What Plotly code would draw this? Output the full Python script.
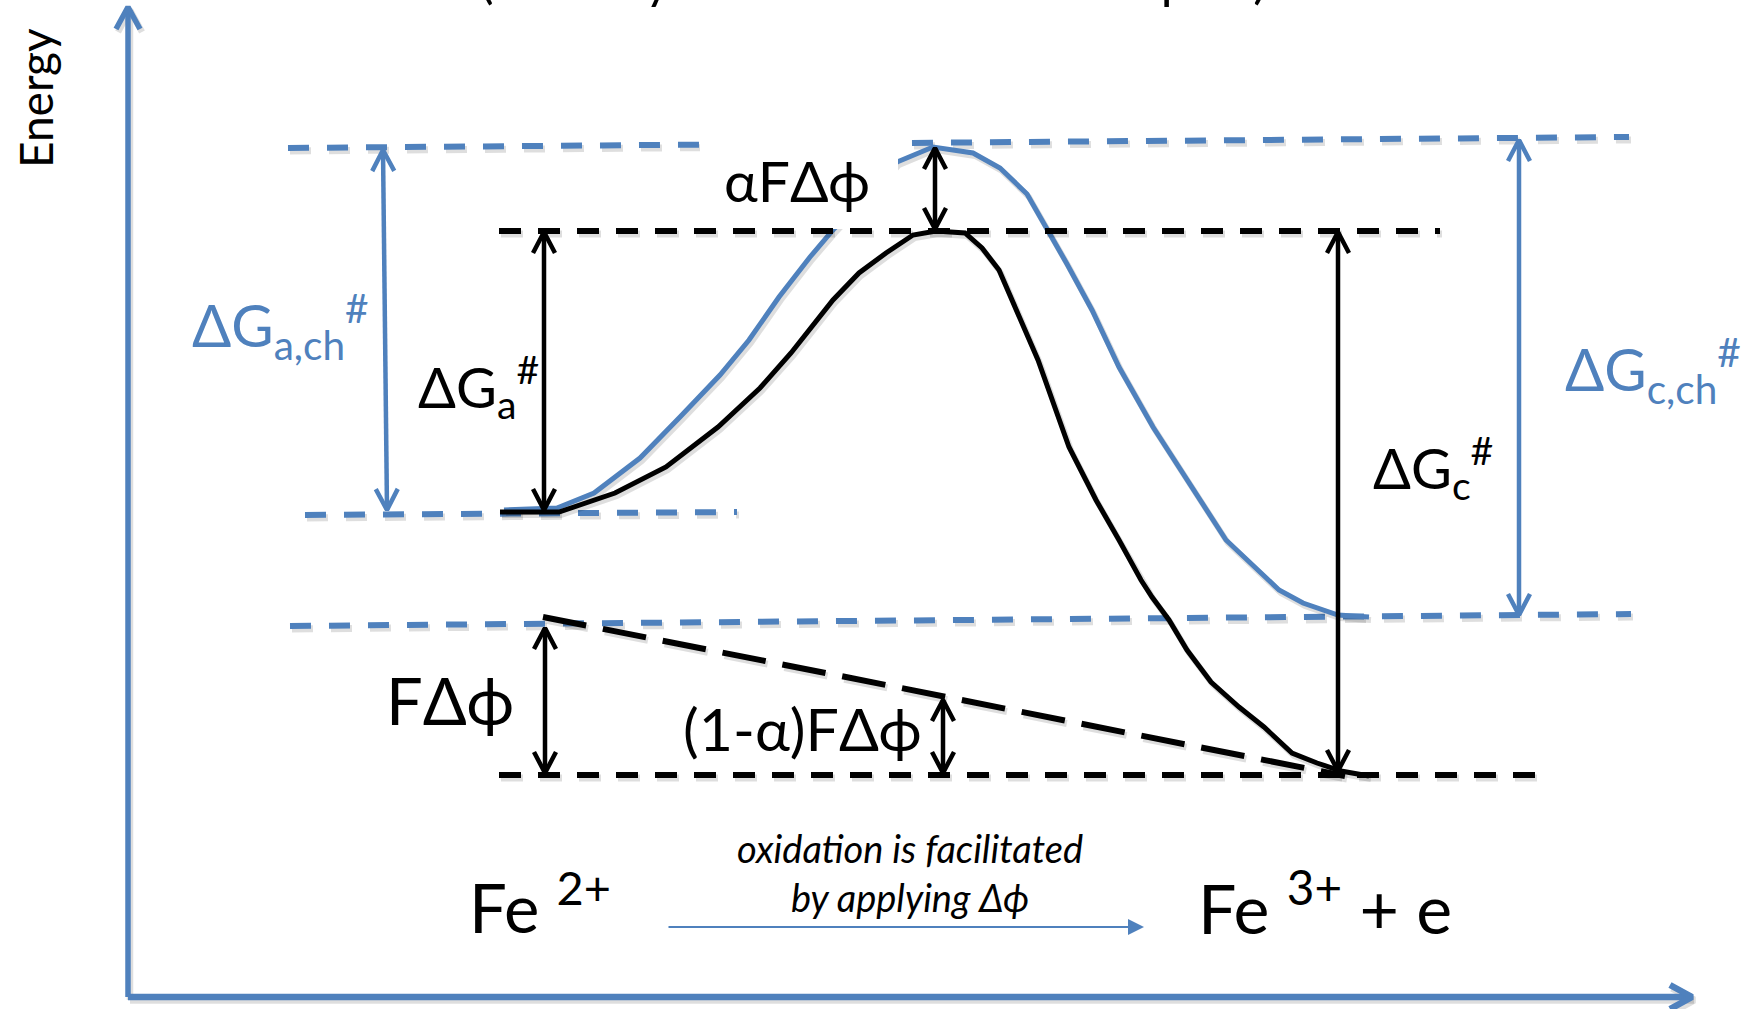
import math
import plotly.graph_objects as go

W, H = 1749, 1009
BLUE = "#4F81BD"
BLACK = "#000000"
SHADOW = "rgba(0,0,0,0.13)"
FONT = "Lato, 'Noto Sans', 'DejaVu Sans', sans-serif"

# ---------------- data (diagram space: x = reaction coordinate, y = energy, drawn downward) ----------------
blue_path_x = [504, 557, 594, 640, 680, 720, 749, 779, 810, 833, 897, 910, 933, 973, 1000, 1027,
               1047, 1067, 1092, 1119, 1153, 1176, 1226, 1279, 1303, 1338, 1369]
blue_path_y = [510, 508, 493, 458, 417, 375, 340, 297, 257, 230, 162, 157, 147, 153, 168, 194,
               228, 264, 310, 367, 427, 463, 540, 590, 603, 615, 617]

black_path_x = [500, 559, 615, 666, 718, 760, 791, 833, 859, 886, 913, 936, 965, 982, 999, 1013,
                1038, 1069, 1096, 1119, 1141, 1152, 1169, 1187, 1211, 1239, 1264, 1292, 1317, 1341, 1369]
black_path_y = [512, 512, 493, 467, 427, 388, 353, 300, 273, 253, 235, 231, 233, 248, 270, 303,
                360, 447, 500, 540, 580, 597, 620, 650, 682, 707, 727, 753, 763, 771, 776]

blue_level_x0 = [288, 305, 290]
blue_level_y0 = [148, 515, 626]
blue_level_x1 = [1629, 737, 1631]
blue_level_y1 = [137, 512, 614]

black_level_x0 = [499, 499]
black_level_y0 = [231, 775]
black_level_x1 = [1440, 1539]
black_level_y1 = [231, 775]

slope_line_x = [543, 1345]
slope_line_y = [617, 776]

arrow_x0 = [383, 544, 935, 1338, 1519, 545, 943]
arrow_y0 = [150, 232, 148, 232, 140, 628, 700]
arrow_x1 = [387, 544, 935, 1338, 1519, 545, 943]
arrow_y1 = [510, 510, 229, 771, 615, 773, 773]
arrow_blue = [True, False, False, False, True, False, False]

label_box_x = [700, 898]
label_box_y = [125, 229]

axis_origin_x, axis_origin_y = 128, 997
y_axis_top = 7
x_axis_right = 1692

reaction_arrow_x = [667, 1144]
reaction_arrow_y = [927, 927]

title_text = "(“Theory” of the activated complex)"
label_texts = [
    "ΔG<sub>a,ch</sub><sup>#</sup>",
    "ΔG<sub>a</sub><sup>#</sup>",
    "ΔG<sub>c</sub><sup>#</sup>",
    "ΔG<sub>c,ch</sub><sup>#</sup>",
    "αFΔϕ",
    "FΔϕ",
    "(1-α)FΔϕ",
    "Fe <sup>2+</sup>",
    "Fe <sup>3+</sup> + e",
]
label_x = [190, 416, 1371, 1563, 722, 384, 681, 467, 1196]
label_y = [326, 386, 467, 370, 180, 700, 728, 903, 903]
label_size = [58, 56, 56, 58, 57, 65, 59, 67, 68]
label_blue = [True, False, False, True, False, False, False, False, False]

note_text = "<i>oxidation is facilitated<br>by applying Δϕ</i>"

# ---------------- figure ----------------
fig = go.Figure()


def chevron(tx, ty, fx, fy, L=21, hw=11):
    dx, dy = tx - fx, ty - fy
    n = math.hypot(dx, dy)
    ux, uy = dx / n, dy / n
    px, py = -uy, ux
    bx, by = tx - L * ux, ty - L * uy
    return [bx + hw * px, tx, bx - hw * px], [by + hw * py, ty, by - hw * py]


def line(xs, ys, color, width, dash="solid", shadow=False):
    if shadow:
        fig.add_trace(go.Scatter(x=[None if v is None else v + 2 for v in xs],
                                 y=[None if v is None else v + 3 for v in ys], mode="lines",
                                 line=dict(color=SHADOW, width=width + 1, dash=dash),
                                 hoverinfo="skip", showlegend=False))
    fig.add_trace(go.Scatter(x=xs, y=ys, mode="lines",
                             line=dict(color=color, width=width, dash=dash),
                             hoverinfo="skip", showlegend=False))


# blue dashed levels
for x0, y0, x1, y1 in zip(blue_level_x0, blue_level_y0, blue_level_x1, blue_level_y1):
    line([x0, x1], [y0, y1], BLUE, 6, "21px,18px", shadow=True)

# blue path
line(blue_path_x, blue_path_y, BLUE, 5, shadow=True)

# white label box (hides part of blue path & level)
fig.add_trace(go.Scatter(x=[label_box_x[0], label_box_x[1], label_box_x[1], label_box_x[0], label_box_x[0]],
                         y=[label_box_y[0], label_box_y[0], label_box_y[1], label_box_y[1], label_box_y[0]],
                         mode="lines", fill="toself", fillcolor="white",
                         line=dict(width=0, color="white"), hoverinfo="skip", showlegend=False))

# black dashed levels
for x0, y0, x1, y1 in zip(black_level_x0, black_level_y0, black_level_x1, black_level_y1):
    line([x0, x1], [y0, y1], BLACK, 6, "22px,17px", shadow=True)

# slanted long-dash line
line(slope_line_x, slope_line_y, BLACK, 6, "44px,17px", shadow=True)

# black path
line(black_path_x, black_path_y, BLACK, 5, shadow=True)

# double-headed arrows
for x0, y0, x1, y1, isb in zip(arrow_x0, arrow_y0, arrow_x1, arrow_y1, arrow_blue):
    c1x, c1y = chevron(x0, y0, x1, y1)
    c2x, c2y = chevron(x1, y1, x0, y0)
    xs = [x0, x1, None] + c1x + [None] + c2x
    ys = [y0, y1, None] + c1y + [None] + c2y
    line(xs, ys, BLUE if isb else BLACK, 4.5)

# axes
cx, cy = chevron(axis_origin_x, y_axis_top, axis_origin_x, axis_origin_y, L=22, hw=12)
line([axis_origin_x, axis_origin_x, None] + cx, [axis_origin_y, y_axis_top, None] + cy, BLUE, 5.5, shadow=True)
cx, cy = chevron(x_axis_right, axis_origin_y, axis_origin_x, axis_origin_y, L=22, hw=12)
line([axis_origin_x, x_axis_right, None] + cx, [axis_origin_y, axis_origin_y, None] + cy, BLUE, 6.5, shadow=True)

annotations = []
for t, x, y, s, isb in zip(label_texts, label_x, label_y, label_size, label_blue):
    annotations.append(dict(x=x, y=y, xref="x", yref="y", text=t, showarrow=False,
                            xanchor="left", yanchor="middle",
                            font=dict(family=FONT, size=s, color=BLUE if isb else BLACK)))

annotations.append(dict(x=35, y=98, xref="x", yref="y", text="Energy", showarrow=False,
                        textangle=-90, xanchor="center", yanchor="middle",
                        font=dict(family=FONT, size=46, color=BLACK)))

annotations.append(dict(x=873 / W, y=1 + 21 / H, xref="paper", yref="paper", text=title_text,
                        showarrow=False, xanchor="center", yanchor="middle",
                        font=dict(family=FONT, size=51, color=BLACK)))

annotations.append(dict(x=910, y=872, xref="x", yref="y", text=note_text, showarrow=False,
                        xanchor="center", yanchor="middle",
                        font=dict(family=FONT, size=38, color=BLACK)))

annotations.append(dict(x=reaction_arrow_x[1], y=reaction_arrow_y[1], ax=reaction_arrow_x[0],
                        ay=reaction_arrow_y[0], xref="x", yref="y", axref="x", ayref="y",
                        text="", showarrow=True, arrowhead=2, arrowsize=1.6, arrowwidth=2,
                        arrowcolor=BLUE, standoff=0))

fig.update_layout(
    width=W, height=H,
    margin=dict(l=0, r=0, t=0, b=0),
    paper_bgcolor="white", plot_bgcolor="white",
    showlegend=False,
    xaxis=dict(range=[0, W], visible=False, fixedrange=True),
    yaxis=dict(range=[H, 0], visible=False, fixedrange=True),
    annotations=annotations,
)

fig.write_html("out.html", config={"displayModeBar": False, "staticPlot": True},
               post_script="document.body.style.margin='0';document.body.style.overflow='hidden';")
